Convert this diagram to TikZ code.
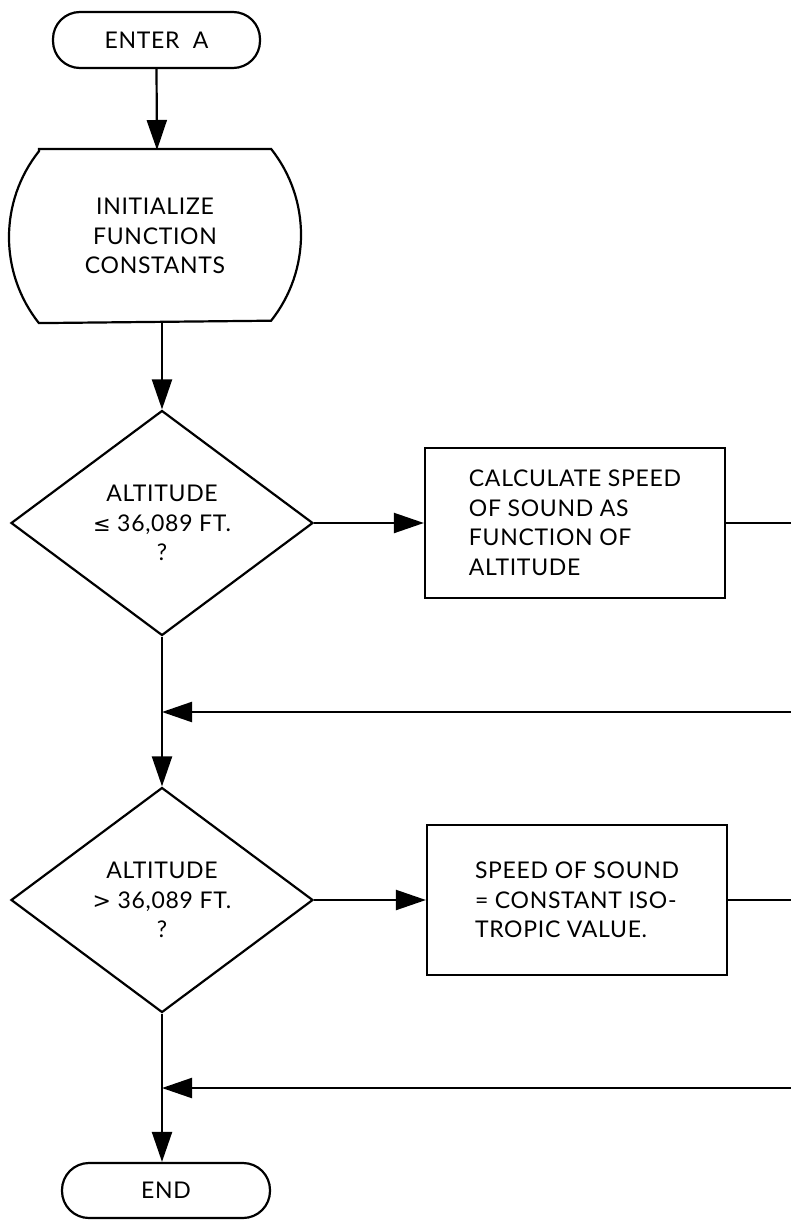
\documentclass[tikz,border=0pt]{standalone}
\usepackage{fontspec}
\setmainfont{Lato}[LetterSpace=3]
\newfontfamily\symf{DejaVu Sans}
\usetikzlibrary{arrows.meta,shapes.geometric,calc}
\begin{document}
\begin{tikzpicture}[x=1pt,y=-1pt,line width=2.2pt,
  every node/.style={font=\fontsize{23}{29.5}\selectfont,align=center,inner sep=0pt},
  term/.style={draw,rectangle,rounded corners=27pt,minimum width=207pt,minimum height=56pt},
  dec/.style={draw,diamond,minimum width=302pt,minimum height=225pt},
  proc/.style={draw,rectangle,minimum width=300pt,minimum height=150pt,align=left},
  arr/.style={-{Triangle[length=30pt,width=20pt]}}]
\useasboundingbox (0,0) rectangle (791,1220);

% nodes
\node[term] (enter) at (156.5,40) {ENTER\ \ A};
\node[minimum width=230pt,minimum height=172pt] (init) at (155,236) {INITIALIZE\\FUNCTION\\CONSTANTS};
\draw (init.north west) -- (init.north east)
  arc[start angle=-38.4,end angle=38.4,radius=138.3]
  -- (init.south west)
  arc[start angle=141.6,end angle=218.4,radius=138.3] -- cycle;
\coordinate (itop) at (157,150);
\coordinate (ibot) at (162,322);

\node[dec] (d1) at (162,523) {ALTITUDE\\{\symf\fontsize{21}{29.5}\selectfont ≤} 36,089 FT.\\?};
\node[proc] (b1) at (575,523) {CALCULATE SPEED\\OF SOUND AS\\FUNCTION OF\\ALTITUDE};
\node[dec] (d2) at (162,900) {ALTITUDE\\{\symf\fontsize{22}{29.5}\selectfont >} 36,089 FT.\\?};
\node[proc] (b2) at (577,900) {SPEED OF SOUND\\= CONSTANT ISO-\\TROPIC VALUE.};
\node[term,minimum width=208pt,minimum height=55pt] (end) at (166,1190.5) {END};

\coordinate (r1) at (791,523);
\coordinate (r1b) at (791,712);
\coordinate (j1) at (162,712);
\coordinate (r2) at (791,900);
\coordinate (r2b) at (791,1088);
\coordinate (j2) at (162,1088);

% connectors
\draw[arr] (enter.south) -- (itop);
\draw[arr] (ibot) -- (d1.north);
\draw[arr] (d1.east) -- (b1.west);
\draw (b1.east) -- (r1);
\draw[arr] (r1b) -- (j1);
\draw[arr] (d1.south) -- (d2.north);
\draw[arr] (d2.east) -- (b2.west);
\draw (b2.east) -- (r2);
\draw[arr] (r2b) -- (j2);
\draw[arr] (d2.south) -- (d2.south |- end.north);
\end{tikzpicture}
\end{document}
